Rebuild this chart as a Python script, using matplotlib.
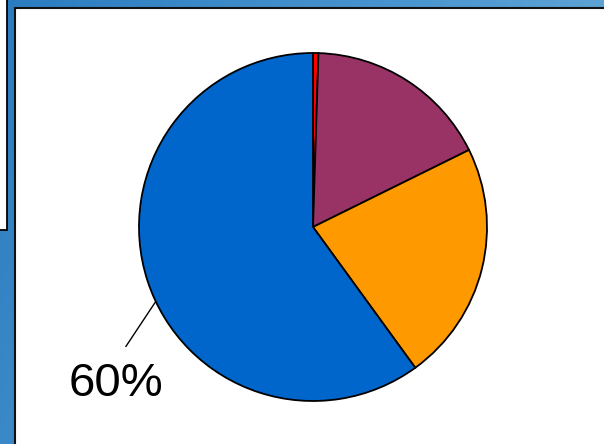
import numpy as np
import matplotlib
matplotlib.use("Agg")
import matplotlib.pyplot as plt
from matplotlib.colors import LinearSegmentedColormap
from matplotlib.patches import Rectangle

# slice shares, clockwise from 12 o'clock
shares = [0.5, 17.2, 22.3, 60.0]
colors = ["#ff0000", "#993366", "#ff9900", "#0066cc"]
label_text = "60%"

W, H = 604, 444
fig = plt.figure(figsize=(W / 100, H / 100), dpi=100)

# blue gradient backdrop
bg = fig.add_axes([0, 0, 1, 1])
bg.set_axis_off()
gx, gy = np.meshgrid(np.linspace(0, 1, 200), np.linspace(0, 1, 150))
grad = 0.75 * gx + 0.25 * gy
cmap = LinearSegmentedColormap.from_list("bluebg", ["#2a7cc0", "#4a95cf", "#70afda"])
bg.imshow(grad, cmap=cmap, extent=[0, W, H, 0], aspect="auto")
bg.set_xlim(0, W)
bg.set_ylim(H, 0)

# window behind, on the left
bg.add_patch(Rectangle((-5, -5), 12, 235, facecolor="white", edgecolor="black", lw=1.3))
# main white panel
bg.add_patch(Rectangle((15, 8.5), W, H, facecolor="white", edgecolor="#111111", lw=1.5))

# pie
cx, cy, r = 313, 227, 174
ax = fig.add_axes([(cx - r) / W, (H - cy - r) / H, 2 * r / W, 2 * r / H])
wedges, _ = ax.pie(shares, colors=colors, startangle=90, counterclock=False,
                   wedgeprops=dict(edgecolor="black", linewidth=1.3))
ax.set_xlim(-1, 1)
ax.set_ylim(-1, 1)

# leader line and label for the big slice
ax.plot([-0.905, -1.075], [-0.43, -0.686], color="black", lw=1.0, clip_on=False)
ax.text(-1.13, -0.90, label_text, ha="center", va="center", fontsize=34,
        family="Liberation Sans", clip_on=False)

fig.savefig("out.png", dpi=100)
